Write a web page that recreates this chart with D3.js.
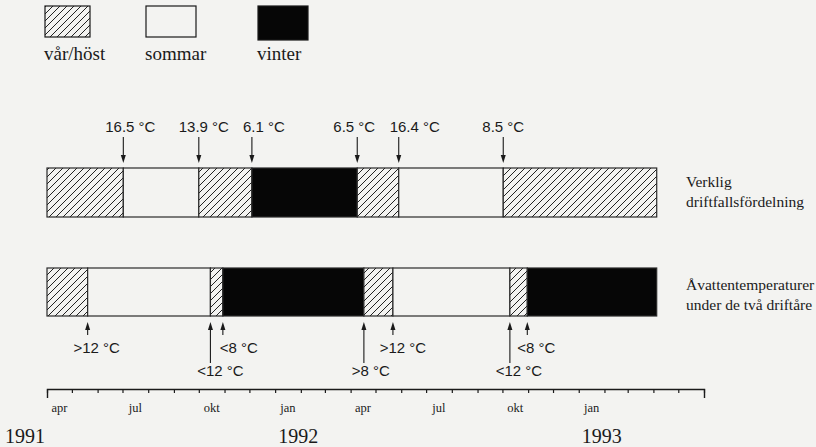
<!DOCTYPE html>
<html>
<head>
<meta charset="utf-8">
<script src="https://cdn.jsdelivr.net/npm/d3@7"></script>
<style>
  body { margin: 0; background: #f3f3f1; }
  svg { display: block; }
</style>
</head>
<body>
<div id="chart"></div>
<script>
// --- data ---
const seasons = ["vår/höst", "sommar", "vinter"];
const periodStart = "1991-04-01";
const periodEnd = "1993-04-05";
const axisDomain = ["1991-04-01", "1993-06-01"];

// Verklig driftfallsfördelning
const verkligBreaks = ["1991-07-02", "1991-10-01", "1991-12-04", "1992-04-09", "1992-05-29", "1992-10-02"];
const verkligSeasons = ["vår/höst", "sommar", "vår/höst", "vinter", "vår/höst", "sommar", "vår/höst"];
const verkligLabels = ["16.5 °C", "13.9 °C", "6.1 °C", "6.5 °C", "16.4 °C", "8.5 °C"];

// Åvattentemperaturer
const avattenBreaks = ["1991-05-20", "1991-10-15", "1991-10-30", "1992-04-17", "1992-05-22", "1992-10-10", "1992-10-31"];
const avattenSeasons = ["vår/höst", "sommar", "vår/höst", "vinter", "vår/höst", "sommar", "vår/höst", "vinter"];
const avattenLabels = [">12 °C", "<12 °C", "<8 °C", ">8 °C", ">12 °C", "<12 °C", "<8 °C"];

const monthLabels = ["apr", "jul", "okt", "jan", "apr", "jul", "okt", "jan"];
const monthLabelDates = ["1991-04-01", "1991-07-01", "1991-10-01", "1992-01-01", "1992-04-01", "1992-07-01", "1992-10-01", "1993-01-01"];
const yearLabels = ["1991", "1992", "1993"];

// --- layout ---
const W = 816, H = 447;
const bg = "#f3f3f1", ink = "#1a1a1a";
const serif = "'Liberation Serif', 'Times New Roman', serif";
const sans = "'Liberation Sans', Arial, sans-serif";
const topBar = {y: 168, h: 49};
const botBar = {y: 268, h: 48};
const verkligDx = [7, 5, 12, -3, 16, 0];
const avattenDx = [9, 10, 16, 7, 10, 9, 9];
const avattenLong = [false, true, false, true, false, true, false];

const parse = d3.timeParse("%Y-%m-%d");

const svg = d3.select("#chart").append("svg")
    .attr("width", W).attr("height", H);

svg.append("rect").attr("width", W).attr("height", H).attr("fill", bg);

// hatch pattern for vår/höst
const pat = svg.append("defs").append("pattern")
    .attr("id", "hatch")
    .attr("patternUnits", "userSpaceOnUse")
    .attr("width", 7).attr("height", 7);
pat.append("rect").attr("width", 7).attr("height", 7).attr("fill", bg);
pat.append("path")
    .attr("d", "M-1,1 l2,-2 M0,7 l7,-7 M6,8 l2,-2")
    .attr("stroke", "#222").attr("stroke-width", 1);

const fillFor = d3.scaleOrdinal().domain(seasons).range(["url(#hatch)", bg, "#060606"]);

const x = d3.scaleTime()
    .domain(axisDomain.map(parse))
    .range([47, 704]);

// --- legend ---
const legendX = [45, 146, 258];
const legend = svg.append("g").selectAll("g")
    .data(seasons)
    .join("g")
    .attr("transform", (d, i) => `translate(${legendX[i]},0)`);
legend.append("rect")
    .attr("x", 0).attr("y", 6)
    .attr("width", (d, i) => i === 0 ? 45 : 50)
    .attr("height", (d, i) => i === 2 ? 34 : 31)
    .attr("fill", d => fillFor(d))
    .attr("stroke", ink).attr("stroke-width", 1.2);
legend.append("text")
    .attr("x", -1).attr("y", 60)
    .attr("font-family", serif).attr("font-size", 19)
    .attr("fill", ink)
    .text(d => d);

// --- bars ---
function drawBar(breaks, seasonSeq, bar) {
    const edges = [periodStart, ...breaks, periodEnd].map(parse);
    const segs = seasonSeq.map((s, i) => ({season: s, a: edges[i], b: edges[i + 1]}));
    svg.append("g").selectAll("rect")
        .data(segs)
        .join("rect")
        .attr("x", d => x(d.a))
        .attr("y", bar.y)
        .attr("width", d => x(d.b) - x(d.a))
        .attr("height", bar.h)
        .attr("fill", d => fillFor(d.season))
        .attr("stroke", "#2a2a2a")
        .attr("stroke-width", 1.2);
}
drawBar(verkligBreaks, verkligSeasons, topBar);
drawBar(avattenBreaks, avattenSeasons, botBar);

// --- arrows above top bar ---
const topArrows = svg.append("g").selectAll("g")
    .data(verkligBreaks.map((d, i) => ({date: parse(d), label: verkligLabels[i], dx: verkligDx[i]})))
    .join("g");
topArrows.append("line")
    .attr("x1", d => x(d.date)).attr("x2", d => x(d.date))
    .attr("y1", 137).attr("y2", 157)
    .attr("stroke", ink).attr("stroke-width", 1.1);
topArrows.append("path")
    .attr("d", d => `M${x(d.date) - 2.5},155 L${x(d.date) + 2.5},155 L${x(d.date)},163 Z`)
    .attr("fill", ink);
topArrows.append("text")
    .attr("x", d => x(d.date) + d.dx).attr("y", 132)
    .attr("text-anchor", "middle")
    .attr("font-family", sans).attr("font-size", 15)
    .attr("fill", ink)
    .text(d => d.label);

// --- arrows below bottom bar ---
const botArrows = svg.append("g").selectAll("g")
    .data(avattenBreaks.map((d, i) => ({date: parse(d), label: avattenLabels[i], dx: avattenDx[i], long: avattenLong[i]})))
    .join("g");
botArrows.append("line")
    .attr("x1", d => x(d.date)).attr("x2", d => x(d.date))
    .attr("y1", 328).attr("y2", d => d.long ? 363 : 335)
    .attr("stroke", ink).attr("stroke-width", 1.1);
botArrows.append("path")
    .attr("d", d => `M${x(d.date) - 2.5},330 L${x(d.date) + 2.5},330 L${x(d.date)},322 Z`)
    .attr("fill", ink);
botArrows.append("text")
    .attr("x", d => x(d.date) + d.dx).attr("y", d => d.long ? 376 : 353)
    .attr("text-anchor", "middle")
    .attr("font-family", sans).attr("font-size", 15)
    .attr("fill", ink)
    .text(d => d.label);

// --- right side captions ---
const captions = [["Verklig", "driftfallsfördelning"], ["Åvattentemperaturer", "under de två driftåre"]];
const capY = [187, 290];
captions.forEach((lines, k) => {
    svg.append("text")
        .attr("x", 686).attr("y", capY[k])
        .attr("font-family", serif).attr("font-size", 15.5)
        .attr("fill", ink)
        .selectAll("tspan")
        .data(lines)
        .join("tspan")
        .attr("x", 686)
        .attr("dy", (d, i) => i === 0 ? 0 : 20)
        .text(d => d);
});

// --- time axis ---
const axis = svg.append("g")
    .attr("transform", "translate(0,389)")
    .call(d3.axisBottom(x)
        .ticks(d3.timeMonth.every(1))
        .tickSizeInner(4)
        .tickSizeOuter(9)
        .tickFormat(""));
axis.select(".domain").attr("stroke", ink).attr("stroke-width", 1.4);
axis.selectAll(".tick line").attr("stroke", ink).attr("stroke-width", 1.2);

// month labels centred in their month
svg.append("g").selectAll("text")
    .data(monthLabelDates.map((d, i) => ({date: parse(d), label: monthLabels[i]})))
    .join("text")
    .attr("x", d => (x(d.date) + x(d3.timeMonth.offset(d.date, 1))) / 2)
    .attr("y", 412)
    .attr("text-anchor", "middle")
    .attr("font-family", serif).attr("font-size", 12.5)
    .attr("fill", ink)
    .text(d => d.label);

// year labels at 1 January, clamped to the left margin
svg.append("g").selectAll("text")
    .data(yearLabels)
    .join("text")
    .attr("x", d => Math.max(5, x(parse(d + "-01-01")) + 3))
    .attr("y", 443)
    .attr("font-family", serif).attr("font-size", 20)
    .attr("fill", ink)
    .text(d => d);
</script>
</body>
</html>
